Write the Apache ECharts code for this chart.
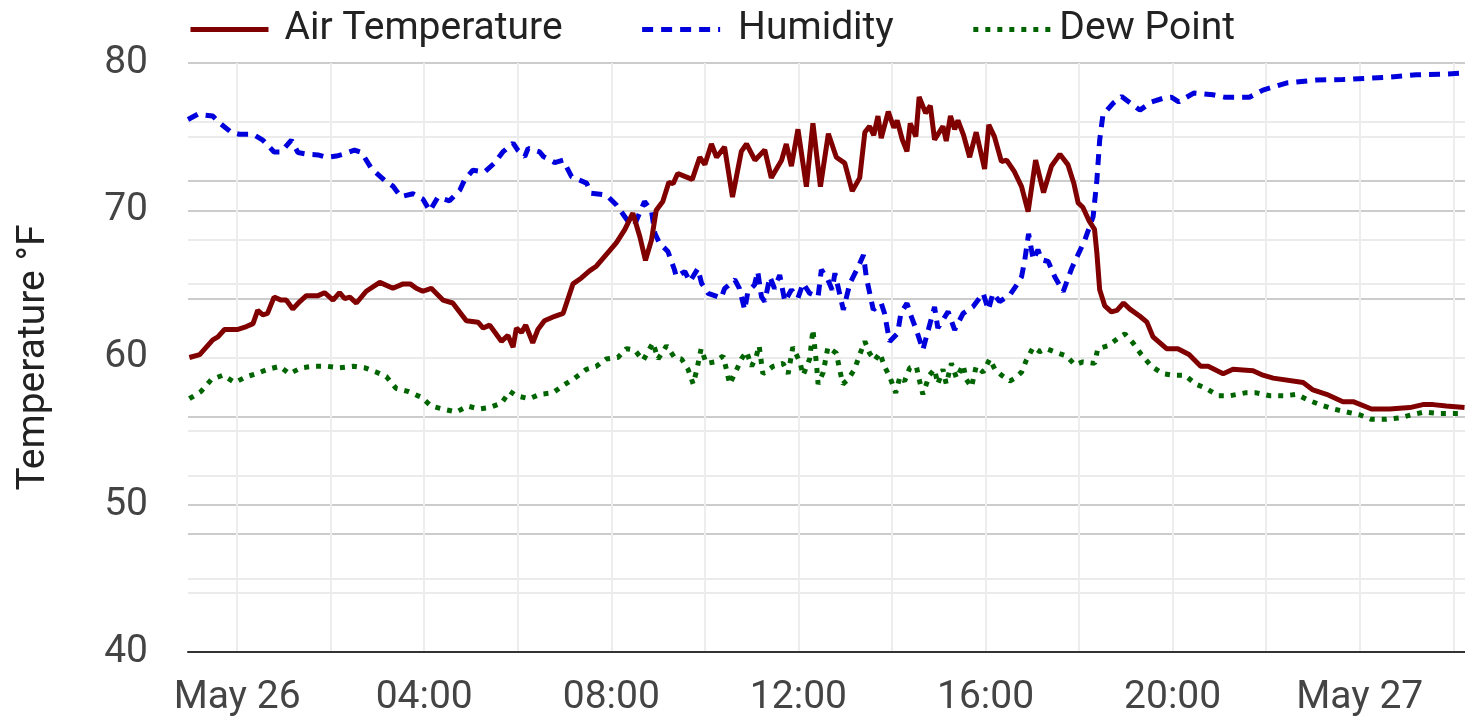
<!DOCTYPE html>
<html><head><meta charset="utf-8">
<script src="https://cdn.jsdelivr.net/npm/echarts@6/dist/echarts.min.js"></script>
<style>html,body{margin:0;padding:0;background:#fff}#c{width:1465px;height:726px}</style>
</head><body><div id="c"></div>
<script>
// hours relative to May 26 00:00
const tempHours = [-1.02,-0.8,-0.52,-0.41,-0.27,0.0,0.2,0.34,0.44,0.55,0.65,0.79,0.94,1.05,1.19,1.34,1.48,1.73,1.87,2.05,2.19,2.3,2.41,2.55,2.76,3.05,3.33,3.55,3.7,3.83,3.97,4.15,4.4,4.61,4.9,5.15,5.26,5.4,5.65,5.79,5.9,5.97,6.08,6.17,6.32,6.43,6.57,6.79,6.97,7.18,7.36,7.54,7.68,7.95,8.11,8.29,8.46,8.61,8.73,8.86,8.96,9.1,9.23,9.32,9.42,9.57,9.73,9.89,10.0,10.14,10.25,10.42,10.59,10.78,10.89,11.07,11.28,11.42,11.53,11.64,11.74,11.85,11.99,12.17,12.31,12.47,12.64,12.81,12.99,13.15,13.31,13.42,13.52,13.61,13.7,13.77,13.92,14.04,14.11,14.22,14.32,14.39,14.51,14.58,14.72,14.82,14.91,15.09,15.16,15.25,15.34,15.41,15.53,15.66,15.8,15.98,16.07,16.19,16.34,16.45,16.62,16.77,16.91,17.07,17.24,17.41,17.59,17.76,17.89,17.98,18.08,18.21,18.33,18.38,18.44,18.55,18.69,18.81,18.95,19.08,19.3,19.45,19.58,19.87,20.11,20.35,20.6,20.76,21.08,21.29,21.72,21.93,22.15,22.79,23.0,23.29,23.64,23.86,24.25,24.64,25.07,25.35,25.57,25.85,26.24];
const tempValues = [60.0,60.2,61.2,61.4,61.9,61.9,62.1,62.3,63.2,62.9,63.0,64.1,63.9,63.9,63.3,63.8,64.2,64.2,64.4,63.9,64.4,64.0,64.1,63.7,64.5,65.1,64.7,65.0,65.0,64.7,64.5,64.7,63.9,63.7,62.5,62.4,62.0,62.2,61.1,61.5,60.7,62.0,61.7,62.2,61.0,61.9,62.5,62.8,63.0,65.0,65.4,65.9,66.2,67.2,67.8,68.7,69.8,68.2,66.6,68.0,70.0,70.6,71.9,71.8,72.5,72.3,72.1,73.6,73.1,74.5,73.6,74.3,70.9,74.0,74.5,73.4,74.1,72.2,72.8,73.4,74.5,73.0,75.5,71.6,75.9,71.6,75.2,73.6,73.2,71.3,72.2,75.3,75.7,75.1,76.4,74.9,76.7,75.6,76.1,74.8,74.0,75.9,75.0,77.7,76.6,77.1,74.8,75.7,74.7,76.4,75.5,76.1,75.1,73.6,75.3,72.8,75.8,75.0,73.3,73.4,72.6,71.6,69.9,73.4,71.2,73.0,73.8,73.1,71.8,70.5,70.2,69.3,68.7,67.1,64.6,63.5,63.1,63.2,63.7,63.3,62.8,62.4,61.4,60.6,60.6,60.2,59.4,59.4,58.9,59.2,59.1,58.8,58.6,58.3,57.8,57.5,57.0,57.0,56.5,56.5,56.6,56.8,56.8,56.7,56.6];

const humHours = [-1.05,-0.84,-0.52,-0.37,-0.12,0.05,0.34,0.55,0.79,0.94,1.16,1.3,1.51,1.73,1.91,2.12,2.26,2.51,2.66,2.87,3.15,3.33,3.5,3.76,3.97,4.12,4.29,4.54,4.76,4.86,5.04,5.29,5.5,5.68,5.9,6.0,6.15,6.22,6.47,6.55,6.79,6.97,7.15,7.47,7.57,7.89,8.11,8.36,8.5,8.71,8.86,8.93,9.03,9.21,9.35,9.39,9.57,9.68,9.85,9.93,10.07,10.35,10.42,10.64,10.74,10.85,10.92,11.06,11.13,11.21,11.28,11.39,11.49,11.6,11.71,11.85,11.99,12.1,12.24,12.42,12.49,12.63,12.72,12.78,12.96,13.1,13.28,13.39,13.45,13.6,13.77,13.84,13.95,14.12,14.19,14.32,14.4,14.52,14.66,14.91,14.98,15.2,15.34,15.52,15.73,15.95,16.06,16.16,16.3,16.52,16.69,16.77,16.84,16.92,17.02,17.12,17.2,17.34,17.48,17.66,17.84,18.12,18.3,18.38,18.44,18.51,18.73,18.91,19.15,19.3,19.55,19.79,19.97,20.13,20.45,20.86,21.11,21.64,21.93,22.43,23.07,23.64,24.14,24.64,25.21,25.78,26.24];
const humValues = [90.4,91.3,91.0,89.8,88.2,87.9,87.9,86.9,84.9,84.9,86.9,84.8,84.5,84.4,84.0,84.2,84.5,85.2,84.8,82.1,80.1,79.1,77.3,77.8,76.9,74.9,77.2,76.6,78.4,80.1,81.8,81.5,83.0,84.9,86.4,85.2,84.1,85.5,84.9,84.1,83.1,83.5,80.7,79.6,77.9,77.6,75.9,73.1,72.6,76.5,74.8,71.1,69.4,68.0,64.9,63.7,64.6,62.9,65.1,62.6,60.9,60.1,61.7,63.2,61.7,58.1,61.2,62.3,64.6,60.3,59.5,63.7,61.7,64.0,59.5,61.5,60.1,62.6,60.9,60.3,64.9,63.2,61.5,64.3,58.1,62.6,65.4,67.4,63.7,58.1,59.2,57.5,52.7,54.1,57.5,59.2,57.2,54.7,51.3,58.6,55.0,57.8,54.7,57.5,58.6,60.9,58.1,60.9,59.5,60.6,62.6,63.7,66.6,71.0,66.6,68.3,66.6,66.3,63.7,61.2,65.1,69.9,73.9,80.1,86.9,91.2,93.2,94.3,92.9,92.0,93.4,94.0,94.2,93.4,94.9,94.6,94.2,94.2,95.4,96.6,97.1,97.2,97.4,97.6,98.0,98.1,98.3];

const dewHours = [-1.02,-0.77,-0.55,-0.3,-0.05,0.2,0.41,0.66,0.91,1.12,1.37,1.62,1.94,2.19,2.48,2.73,2.98,3.19,3.4,3.65,3.94,4.15,4.4,4.69,4.93,5.18,5.4,5.65,5.83,5.97,6.25,6.47,6.75,6.97,7.22,7.47,7.68,7.89,8.14,8.32,8.5,8.68,8.89,9.0,9.18,9.35,9.5,9.64,9.75,9.83,9.92,10.03,10.21,10.39,10.46,10.53,10.67,10.78,10.89,11.0,11.1,11.16,11.24,11.46,11.67,11.78,11.88,12.03,12.1,12.24,12.31,12.39,12.42,12.53,12.63,12.81,12.88,12.95,13.06,13.2,13.31,13.42,13.52,13.63,13.74,13.84,13.95,14.08,14.17,14.27,14.38,14.52,14.59,14.66,14.8,14.91,14.98,15.09,15.16,15.27,15.38,15.52,15.59,15.7,15.8,15.95,16.09,16.2,16.34,16.52,16.63,16.77,16.87,17.02,17.16,17.3,17.55,17.73,17.91,18.08,18.33,18.4,18.62,18.83,18.98,19.15,19.33,19.55,19.79,20.01,20.26,20.49,20.72,20.97,21.22,21.55,21.79,22.08,22.4,22.65,22.9,23.15,23.44,23.72,24.0,24.25,24.57,24.85,25.1,25.38,25.7,25.98,26.24];
const dewValues = [57.2,57.7,58.5,58.8,58.3,58.7,58.9,59.2,59.4,58.9,59.3,59.4,59.4,59.3,59.4,59.3,59.0,58.7,57.9,57.7,57.3,56.7,56.5,56.3,56.7,56.5,56.6,56.9,57.7,57.4,57.2,57.5,57.6,58.1,58.6,59.2,59.4,59.9,60.0,60.6,60.5,59.8,61.0,59.9,60.8,60.0,59.9,59.2,58.2,59.2,60.6,59.6,59.7,60.1,59.2,58.2,59.1,59.9,60.4,59.4,60.1,60.8,58.9,59.4,59.6,58.9,60.7,59.7,58.8,59.9,61.9,59.4,58.2,59.0,60.7,60.3,59.2,58.2,58.5,59.2,60.2,61.1,60.3,59.8,60.3,59.4,58.7,57.6,58.7,58.4,59.3,59.4,58.4,57.5,58.8,59.2,58.2,59.2,58.2,59.6,58.6,59.5,58.5,58.0,59.4,59.0,59.9,59.2,58.8,58.4,58.6,59.0,59.8,60.7,60.4,60.6,60.3,60.1,59.5,59.7,59.6,60.6,60.8,61.3,61.6,61.0,60.2,59.4,58.9,58.8,58.8,58.2,57.9,57.4,57.4,57.6,57.6,57.4,57.4,57.5,57.1,56.8,56.5,56.3,56.1,55.8,55.8,55.9,56.1,56.3,56.2,56.2,56.2];

const seriesNames = ['Air Temperature', 'Humidity', 'Dew Point'];
const tempTicks = [40, 50, 60, 70, 80];

const zip = (a, b) => a.map((x, i) => [x, b[i]]);
const FONT = 'Roboto';
const vColors = Array.from({length: 40}, (_, i) => i === 21 ? '#ededed' : 'rgba(0,0,0,0)');
const legendPads = [11, 13, 3];

function xLabel(v) {
  const r = Math.round(v);
  if (Math.abs(v - r) > 1e-6 || ((r % 4) + 4) % 4 !== 0) return '';
  const hr = ((r % 24) + 24) % 24;
  if (hr === 0) return 'May ' + (26 + Math.floor(r / 24));
  return (hr < 10 ? '0' : '') + hr + ':00';
}

const chart = echarts.init(document.getElementById('c'), null, {renderer: 'canvas'});
chart.setOption({
  animation: false,
  backgroundColor: '#ffffff',
  textStyle: {fontFamily: FONT},
  legend: {
    left: 188, top: 10, padding: 0,
    itemWidth: 78, itemHeight: 14, itemGap: 77,
    itemStyle: {opacity: 0, borderWidth: 0},
    lineStyle: {width: 5},
    textStyle: {fontFamily: FONT, fontSize: 39, color: '#222'},
    data: seriesNames.map((n, i) => ({name: n, textStyle: {padding: [0, 0, 0, legendPads[i]]}}))
  },
  grid: {left: 188, right: 0, top: 63, bottom: 74, containLabel: false, outerBoundsMode: 'none'},
  xAxis: {
    type: 'value', min: -1.05, max: 26.25, interval: 0.05,
    axisLine: {show: true, lineStyle: {color: '#333', width: 2}},
    axisTick: {show: false},
    axisLabel: {formatter: xLabel, fontFamily: FONT, fontSize: 39, color: '#444', margin: 27},
    splitLine: {show: true, lineStyle: {color: vColors, width: 2}}
  },
  yAxis: [{
    type: 'value', min: tempTicks[0], max: tempTicks[tempTicks.length - 1], interval: 10,
    name: 'Temperature °F', nameLocation: 'middle', nameGap: 134, nameRotate: 90,
    nameTextStyle: {fontFamily: FONT, fontSize: 39, color: '#222'},
    axisLine: {show: false}, axisTick: {show: false},
    axisLabel: {fontFamily: FONT, fontSize: 39, color: '#444', margin: 40},
    splitLine: {show: true, lineStyle: {color: '#cccccc', width: 2}},
    minorTick: {show: false, splitNumber: 2},
    minorSplitLine: {show: true, lineStyle: {color: '#ebebeb', width: 2}}
  }, {
    type: 'value', min: 0, max: 100, interval: 20, position: 'right',
    axisLine: {show: false}, axisTick: {show: false}, axisLabel: {show: false},
    splitLine: {show: true, lineStyle: {color: '#cccccc', width: 2}},
    minorTick: {show: false, splitNumber: 2},
    minorSplitLine: {show: true, lineStyle: {color: '#ebebeb', width: 2}}
  }],
  series: [{
    name: seriesNames[0], type: 'line', yAxisIndex: 0, symbol: 'none', showSymbol: false,
    data: zip(tempHours, tempValues),
    lineStyle: {color: '#800000', width: 5}, itemStyle: {color: '#800000'}, z: 3
  }, {
    name: seriesNames[1], type: 'line', yAxisIndex: 1, symbol: 'none', showSymbol: false,
    data: zip(humHours, humValues),
    lineStyle: {color: '#0000dd', width: 5, type: [11, 8]}, itemStyle: {color: '#0000dd'}, z: 2
  }, {
    name: seriesNames[2], type: 'line', yAxisIndex: 0, symbol: 'none', showSymbol: false,
    data: zip(dewHours, dewValues),
    lineStyle: {color: '#006400', width: 5, type: [5, 7]}, itemStyle: {color: '#006400'}, z: 2
  }]
});
</script>
</body></html>
